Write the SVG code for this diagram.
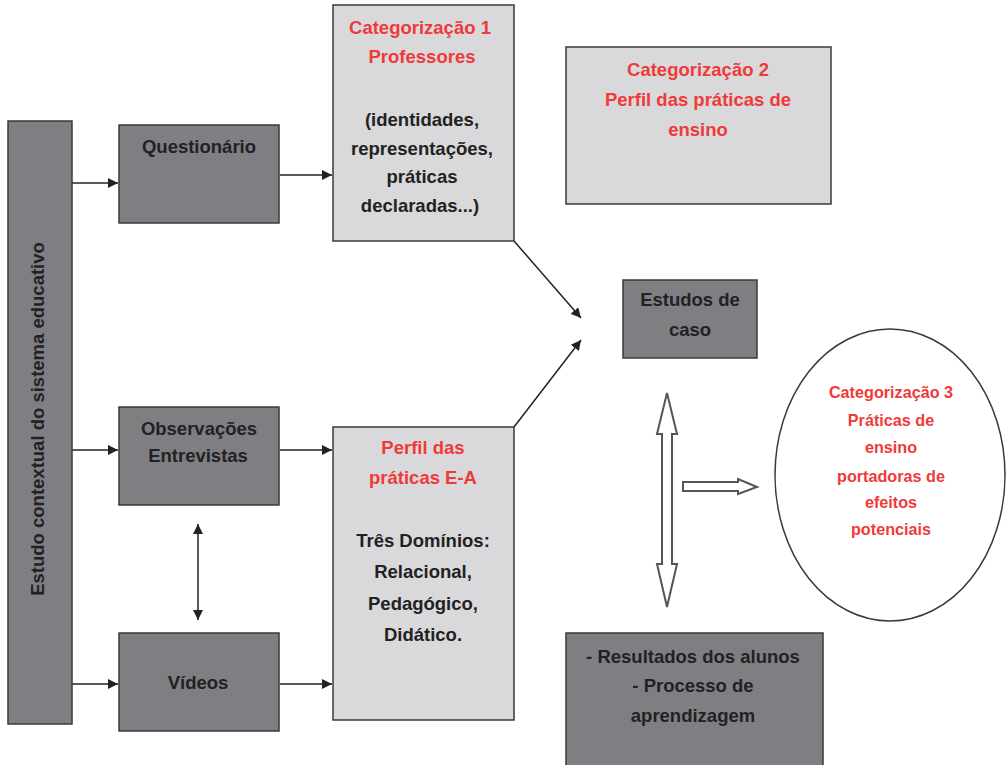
<svg xmlns="http://www.w3.org/2000/svg" width="1007" height="765" viewBox="0 0 1007 765">
<style>
.dark{fill:#7f7f83;stroke:#3a3a3a;stroke-width:1.5}
.light{fill:#d9d9db;stroke:#3a3a3a;stroke-width:1.5}
.t{font-family:"Liberation Sans",Arial,sans-serif;font-weight:bold;font-size:18.5px;text-anchor:middle;fill:#222}
.r{fill:#f03a3a}
.e{font-size:16.2px}
.ln{stroke:#222;stroke-width:1.5;fill:none}
.hollow{fill:#fff;stroke:#555;stroke-width:2}
</style>
<defs>
<marker id="ah" viewBox="0 0 10 10" refX="10" refY="5" markerWidth="10" markerHeight="10" markerUnits="userSpaceOnUse" orient="auto-start-reverse">
<path d="M0,0 L10,5 L0,10 z" fill="#222"/>
</marker>
</defs>
<rect width="1007" height="765" fill="#fff"/>
<g id="connectors">
<line class="ln" x1="72" y1="183" x2="118" y2="183" marker-end="url(#ah)"/>
<line class="ln" x1="72" y1="450" x2="118" y2="450" marker-end="url(#ah)"/>
<line class="ln" x1="72" y1="684" x2="118" y2="684" marker-end="url(#ah)"/>
<line class="ln" x1="280" y1="175" x2="332" y2="175" marker-end="url(#ah)"/>
<line class="ln" x1="280" y1="450" x2="332" y2="450" marker-end="url(#ah)"/>
<line class="ln" x1="280" y1="684" x2="332" y2="684" marker-end="url(#ah)"/>
<line class="ln" x1="198" y1="524" x2="198" y2="620" marker-start="url(#ah)" marker-end="url(#ah)"/>
<line class="ln" x1="514" y1="241" x2="581" y2="318" marker-end="url(#ah)"/>
<line class="ln" x1="514" y1="427" x2="581" y2="340" marker-end="url(#ah)"/>
<path class="hollow" d="M667,393 L677,434 L672,434 L672,564 L677,564 L667,607 L657,564 L662,564 L662,434 L657,434 Z"/>
<path class="hollow" d="M683,482 L738,482 L738,479 L757,487 L738,494 L738,491 L683,491 Z"/>
</g>
<g id="bar">
<rect class="dark" x="8" y="121" width="64" height="603"/>
<text class="t" transform="translate(44,419) rotate(-90)" font-size="20">Estudo contextual do sistema educativo</text>
</g>
<g id="questionario">
<rect class="dark" x="119" y="125" width="160" height="98"/>
<text class="t" x="199" y="153">Questionário</text>
</g>
<g id="observacoes">
<rect class="dark" x="119" y="407" width="160" height="98"/>
<text class="t" x="199" y="435">Observações</text>
<text class="t" x="198" y="462">Entrevistas</text>
</g>
<g id="videos">
<rect class="dark" x="119" y="633" width="160" height="98"/>
<text class="t" x="198" y="689">Vídeos</text>
</g>
<g id="cat1">
<rect class="light" x="333" y="5" width="181" height="236"/>
<text class="t r" x="420" y="34">Categorização 1</text>
<text class="t r" x="422" y="63">Professores</text>
<text class="t" x="422" y="126">(identidades,</text>
<text class="t" x="422" y="155">representações,</text>
<text class="t" x="422" y="183">práticas</text>
<text class="t" x="420" y="212">declaradas...)</text>
</g>
<g id="perfil">
<rect class="light" x="333" y="427" width="181" height="293"/>
<text class="t r" x="423" y="454">Perfil das</text>
<text class="t r" x="423" y="484">práticas E-A</text>
<text class="t" x="423" y="547">Três Domínios:</text>
<text class="t" x="423" y="578">Relacional,</text>
<text class="t" x="423" y="610">Pedagógico,</text>
<text class="t" x="423" y="641">Didático.</text>
</g>
<g id="cat2">
<rect class="light" x="566" y="47" width="265" height="157"/>
<text class="t r" x="698" y="76">Categorização 2</text>
<text class="t r" x="698" y="106">Perfil das práticas de</text>
<text class="t r" x="698" y="136">ensino</text>
</g>
<g id="estudos">
<rect class="dark" x="623" y="280" width="134" height="78"/>
<text class="t" x="690" y="306">Estudos de</text>
<text class="t" x="690" y="336">caso</text>
</g>
<g id="cat3">
<ellipse cx="890" cy="475" rx="115" ry="146" fill="#fff" stroke="#3a3a3a" stroke-width="1.5"/>
<text class="t r e" x="891" y="398">Categorização  3</text>
<text class="t r e" x="891" y="426">Práticas de</text>
<text class="t r e" x="891" y="453">ensino</text>
<text class="t r e" x="891" y="482">portadoras de</text>
<text class="t r e" x="891" y="508">efeitos</text>
<text class="t r e" x="891" y="535">potenciais</text>
</g>
<g id="resultados">
<rect class="dark" x="566" y="633" width="257" height="140"/>
<text class="t" x="693" y="663">- Resultados dos alunos</text>
<text class="t" x="693" y="692">- Processo de</text>
<text class="t" x="693" y="722">aprendizagem</text>
</g>
</svg>
